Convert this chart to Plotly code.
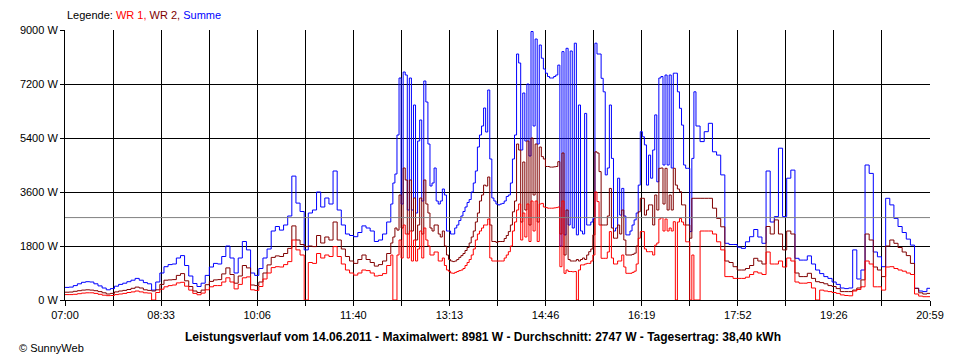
import plotly.graph_objects as go

# ---------------- data ----------------
# sample times: every 4 min 07:00-12:12, every 2 min 12:16-17:12, every 4 min 17:16-21:00
def _span(h0, m0, h1, m1, step):
    a, b = h0 * 60 + m0, h1 * 60 + m1
    return [f"{t // 60:02d}:{t % 60:02d}" for t in range(a, b + 1, step)]


times = _span(7, 0, 12, 12, 4) + _span(12, 16, 17, 12, 2) + _span(17, 16, 21, 0, 4)

summe = [
    # 07:00 - 12:12 (4 min)
    420, 430, 480, 540, 590, 610, 600, 540, 470, 400,
    340, 380, 460, 520, 560, 610, 660, 720, 660, 580,
    540, 330, 600, 900, 1110, 1180, 1200, 1400, 1480, 1150,
    800, 550, 450, 560, 820, 1100, 1220, 1200, 1450, 1800,
    1400, 900, 1400, 1950, 1670, 900, 820, 1050, 1400, 1700,
    2300, 2450, 2330, 2500, 2800, 4130, 3230, 2950, 1670, 2900,
    3000, 3600, 3100, 3400, 3200, 4300, 3000, 2500, 2200, 2150,
    2110, 2250, 2470, 2400, 2300, 1950, 2000, 2200, 2600,
    # 12:16 - 17:12 (2 min)
    3200, 3900, 4200, 5500, 7400, 3200, 7600, 7500, 3000, 7400,
    3000, 6500, 2900, 5300, 6000, 3300, 7300, 6600, 5200, 3800,
    3900, 4400, 3300, 3200, 3300, 3700, 3500, 2300, 2300, 2200,
    2200, 2400, 2500, 2650, 2800, 2950, 3100, 3250, 3350, 3600,
    3900, 4300, 5100, 5500, 5800, 6400, 5600, 7000, 4700, 3400,
    3300, 3200, 3170, 3200, 3220, 3300, 3450, 3500, 3900, 4700,
    5500, 8200, 7900, 5000, 6900, 5300, 7200, 4800, 8950, 5800,
    8700, 5200, 8500, 8060, 7700, 7560, 7450, 7400, 7400, 7450,
    7500, 7830, 1800, 8280, 2170, 8390, 2500, 8300, 2400, 8560,
    2170, 6500, 2300, 2200, 6220, 2500, 2500, 2600, 2720, 8560,
    8200, 8200, 7390, 6940, 4170, 4400, 6500, 4720, 2300, 2400,
    4060, 2830, 3720, 2800, 2170, 2170, 2300, 2500, 2670, 2900,
    3830, 5610, 5440, 5170, 3830, 4830, 4060, 5000, 6170, 3940,
    7400, 7450, 4500, 7500, 4500, 7500, 4400, 7560, 7560, 6940,
    6390, 5830, 4500, 4390, 4390, 2280, 4720, 6940, 5800,
    # 17:16 - 21:00 (4 min)
    5280, 5610, 5890, 4940, 4830, 4170,
    1890, 1850, 1850, 1760, 1720, 1940, 2110, 2350, 2100, 1890,
    4300, 2600, 2780, 5060, 2780, 4060, 4330, 1390, 1330, 1330,
    1470, 1200, 1000, 880, 780, 720, 600, 520, 400, 380,
    400, 1670, 700, 1000, 4500, 4220, 1600, 1440, 1110, 3390,
    3170, 2720, 2450, 2250, 2030, 1830, 390, 300, 280, 390,
    360,
]

wr2 = [
    # 07:00 - 12:12 (4 min)
    260, 265, 290, 310, 330, 340, 330, 310, 280, 240,
    200, 220, 270, 300, 320, 350, 390, 430, 400, 340,
    320, 300, 340, 520, 660, 670, 680, 820, 880, 640,
    450, 300, 250, 330, 510, 620, 670, 680, 870, 1070,
    850, 560, 800, 1150, 1070, 500, 480, 600, 900, 1170,
    1420, 1470, 1450, 1550, 1720, 2470, 2000, 1850, 1780, 1800,
    1780, 2150, 1900, 2100, 2000, 2600, 2000, 1700, 1450, 1300,
    1220, 1350, 1500, 1350, 1250, 1130, 1180, 1300, 1550,
    # 12:16 - 17:12 (2 min)
    1900, 2100, 2400, 2330, 3500, 2400, 4400, 4000, 2200, 4000,
    2300, 3400, 2000, 2500, 3400, 2200, 4000, 3200, 2900, 2400,
    2300, 2500, 2500, 2200, 2100, 2300, 1800, 1500, 1350, 1300,
    1280, 1300, 1350, 1420, 1480, 1550, 1650, 1750, 1900, 2100,
    2300, 2600, 2900, 3300, 3500, 3830, 3800, 4100, 2500, 1950,
    1950, 1920, 1950, 1950, 1950, 2050, 2150, 2280, 2500, 2940,
    3300, 5200, 5000, 2600, 4600, 3000, 5300, 2500, 5400, 3500,
    5200, 2600, 5100, 4780, 4700, 4450, 4450, 4430, 4430, 4440,
    4450, 4610, 2200, 4900, 1500, 3000, 1350, 1300, 1300, 1300,
    1350, 1300, 1350, 1400, 1350, 1500, 1610, 1700, 2170, 4940,
    4900, 4280, 2500, 2500, 2500, 2800, 3720, 2400, 2060, 2060,
    2500, 2200, 3000, 2000, 1500, 1500, 1500, 1520, 1560, 1800,
    2940, 3390, 3390, 2830, 3000, 3170, 3170, 2500, 3500, 3000,
    4390, 4400, 3200, 4390, 3000, 3500, 3000, 4390, 3830, 3700,
    3610, 3170, 3170, 2500, 2500, 2060, 3390, 3390, 3390,
    # 17:16 - 21:00 (4 min)
    3390, 3390, 3390, 3060, 2720, 2440,
    1300, 1250, 1110, 1000, 1000, 1050, 1150, 1390, 1300, 1200,
    2450, 2200, 2670, 2200, 1670, 2300, 2200, 900, 780, 780,
    890, 720, 610, 580, 540, 480, 450, 380, 280, 280,
    280, 330, 400, 670, 2200, 2000, 1100, 1000, 780, 1800,
    2000, 1890, 1750, 1600, 1480, 1220, 390, 240, 200, 220,
    220,
]

wr1 = [
    # 07:00 - 12:12 (4 min)
    180, 180, 190, 210, 230, 240, 240, 220, 190, 160,
    145, 150, 180, 200, 220, 250, 270, 300, 270, 240,
    230, 0, 250, 360, 440, 480, 500, 570, 590, 460,
    330, 220, 175, 230, 340, 440, 480, 480, 600, 740,
    600, 370, 520, 740, 770, 340, 320, 450, 700, 900,
    1080, 1110, 1100, 1180, 1280, 2000, 1670, 1500, 0, 1250,
    1220, 1550, 1400, 1500, 1450, 1780, 1450, 1200, 1000, 900,
    830, 900, 1000, 980, 900, 800, 820, 880, 1150,
    # 12:16 - 17:12 (2 min)
    1500, 0, 0, 1500, 2000, 1400, 2500, 2200, 1400, 2300,
    1300, 2000, 1300, 1700, 2300, 1400, 2400, 2000, 1800, 1500,
    1500, 1600, 1600, 1300, 1300, 1400, 1150, 1000, 960, 900,
    890, 920, 950, 980, 1000, 1050, 1150, 1250, 1350, 1500,
    1700, 2000, 2200, 2300, 2400, 2500, 2500, 2700, 1400, 1300,
    1300, 1300, 1300, 1300, 1300, 1400, 1500, 1610, 1800, 2300,
    2600, 3000, 3200, 2000, 2900, 2100, 3200, 1950, 3300, 2300,
    3300, 1950, 3200, 3220, 3100, 3080, 3060, 3060, 3060, 3070,
    3080, 3100, 1110, 3300, 890, 1000, 950, 950, 940, 950,
    0, 1000, 1170, 1170, 1200, 1220, 1220, 1300, 1500, 3600,
    3280, 2500, 1390, 1390, 1390, 1600, 2280, 1400, 1200, 1200,
    1300, 1300, 1500, 1100, 890, 890, 890, 920, 960, 1200,
    2060, 2280, 2280, 1700, 1610, 1610, 1610, 1500, 1830, 1900,
    2700, 2750, 2300, 2700, 2300, 2400, 2300, 2610, 0, 2600,
    2720, 2600, 2500, 1940, 1940, 0, 1500, 0, 0,
    # 17:16 - 21:00 (4 min)
    2300, 2300, 2300, 2200, 1940, 1670,
    780, 780, 720, 720, 720, 760, 850, 940, 900, 850,
    1600, 1200, 1200, 1300, 1100, 1400, 1300, 600, 560, 560,
    580, 400, 0, 330, 300, 280, 250, 220, 170, 150,
    140, 300, 350, 440, 1300, 1200, 440, 440, 330, 1100,
    1110, 1050, 1000, 960, 900, 850, 200, 130, 110, 110,
    100,
]

average_w = 2747
y_ticks = [0, 1800, 3600, 5400, 7200, 9000]
y_tick_labels = ["0 W", "1800 W", "3600 W", "5400 W", "7200 W", "9000 W"]
x_tick_labels = ["07:00", "", "08:33", "", "10:06", "", "11:40", "", "13:13", "",
                 "14:46", "", "16:19", "", "17:52", "", "19:26", "", "20:59"]
x_start, x_end = "07:00", "20:59"
title_text = ("Leistungsverlauf vom 14.06.2011 - Maximalwert: 8981 W - "
              "Durchschnitt: 2747 W - Tagesertrag: 38,40 kWh")


def to_min(t):
    h, m = t.split(":")
    return int(h) * 60 + int(m)


xm = [to_min(t) for t in times]
assert len(xm) == len(summe) == len(wr1) == len(wr2), (len(xm), len(summe), len(wr1), len(wr2))
x0, x1 = to_min(x_start), to_min(x_end)
n_grid = len(x_tick_labels)
x_tick_vals = [x0 + (x1 - x0) * k / (n_grid - 1) for k in range(n_grid)]

FONT = "Liberation Sans, Arial, sans-serif"

fig = go.Figure()
fig.add_trace(go.Scatter(x=xm, y=summe, mode="lines", name="Summe",
                         line=dict(color="#0000FF", width=1, shape="hv")))
fig.add_trace(go.Scatter(x=xm, y=wr2, mode="lines", name="WR 2",
                         line=dict(color="#800000", width=1, shape="hv")))
fig.add_trace(go.Scatter(x=xm, y=wr1, mode="lines", name="WR 1",
                         line=dict(color="#FF0000", width=1, shape="hv")))

fig.add_hline(y=average_w, line=dict(color="#808080", width=1), layer="above")

# the page body has an 8px margin, so the figure is 952x352 and shifted by 8px
fig.update_layout(
    width=952, height=352,
    margin=dict(l=52, r=30, t=22, b=60),
    paper_bgcolor="white", plot_bgcolor="white",
    showlegend=False,
    font=dict(family=FONT, size=11, color="black"),
    xaxis=dict(
        range=[x0, x1], tickmode="array", tickvals=x_tick_vals, ticktext=x_tick_labels,
        showgrid=True, gridcolor="black", gridwidth=1,
        showline=True, linecolor="black", linewidth=1,
        ticks="outside", ticklen=5, tickcolor="black", tickwidth=1,
        zeroline=False, tickfont=dict(family=FONT, size=11, color="black"),
    ),
    yaxis=dict(
        range=[0, 9000], tickmode="array", tickvals=y_ticks, ticktext=y_tick_labels,
        showgrid=True, gridcolor="black", gridwidth=1,
        showline=True, linecolor="black", linewidth=1,
        ticks="outside", ticklen=4, tickcolor="black", tickwidth=1,
        zeroline=False, tickfont=dict(family=FONT, size=11, color="black"),
    ),
    annotations=[
        dict(xref="paper", yref="paper", x=0.0, y=1.055, xanchor="left", yanchor="middle",
             showarrow=False, font=dict(family=FONT, size=11),
             text=("Legende: <span style='color:#FF0000'>WR 1, </span>"
                   "<span style='color:#800000'>WR 2, </span>"
                   "<span style='color:#0000FF'>Summe</span>")),
        dict(xref="paper", yref="paper", x=0.4828, y=-0.137, xanchor="center", yanchor="middle",
             showarrow=False, font=dict(family=FONT, size=12, color="black"),
             text="<b>" + title_text + "</b>"),
        dict(xref="paper", yref="paper", x=-0.055, y=-0.178, xanchor="left", yanchor="middle",
             showarrow=False, font=dict(family=FONT, size=11, color="black"),
             text="© SunnyWeb"),
    ],
)

fig.write_html("out.html")
